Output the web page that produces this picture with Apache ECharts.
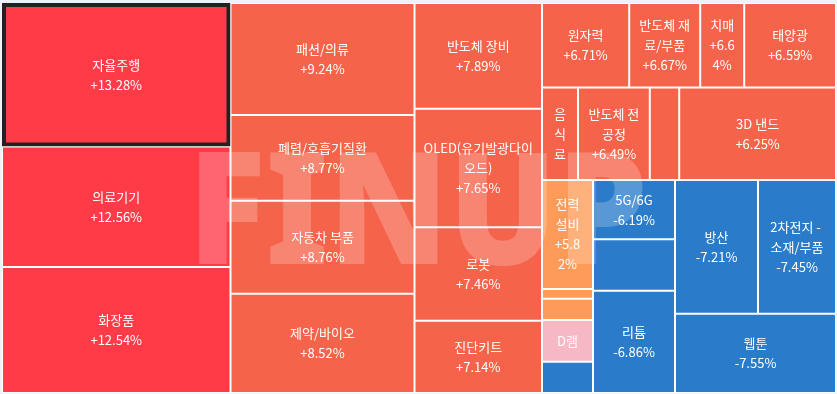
<!DOCTYPE html>
<html>
<head>
<meta charset="utf-8">
<script src="https://cdn.jsdelivr.net/npm/echarts@6/dist/echarts.min.js"></script>
<style>
html,body{margin:0;padding:0;background:#eef1f7;}
#chart{width:837px;height:394px;}
</style>
</head>
<body>
<div id="chart"></div>
<script>
// Sector names (ordered by daily change, as laid out in the reference)
const names = ['자율주행','의료기기','화장품','패션/의류','폐렴/호흡기질환','자동차 부품','제약/바이오','반도체 장비','OLED(유기발광다이오드)','로봇','진단키트',
  '원자력','반도체 재료/부품','치매','태양광',
  '음식료','반도체 전공정','','3D 낸드',
  '전력설비','','','D램','','5G/6G','','리튬','방산','2차전지 - 소재/부품','웹툰'];
// Daily change in %
const changes = [13.28,12.56,12.54,9.24,8.77,8.76,8.52,7.89,7.65,7.46,7.14,
  6.71,6.67,6.64,6.59,
  6.55,6.49,6.35,6.25,
  5.82,5.70,5.60,0.90,-6.05,-6.19,-6.52,-6.86,-7.21,-7.45,-7.55];
// Relative size of each sector (cell area)
const sizes = [32790,27534,28791,20608,15769,17112,18271,13477,15122,11909,9218,
  7368,6000,3718,7757,
  3330,6642,2720,14504,
  5559,500,1081,2127,1596,4854,4223,8389,11105,10436,12751];
// Number of sectors in each nested block of the treemap
const blockCounts = [11,4,4,11];
const nameOnly = ['음식료','D램'];
const highlighted = '자율주행';

function colorFor(c){
  if (c >= 10) return '#ff3b47';
  if (c >= 6) return '#f5634b';
  if (c >= 3) return '#ff9b58';
  if (c > -3) return '#f6b8c2';
  return '#2a7ccb';
}
function fmt(c){ return (c > 0 ? '+' : '') + c.toFixed(2) + '%'; }

const labelPadding = {'치매':[0,6], '전력설비':[0,9], 'OLED(유기발광다이오드)':[0,0]};

function leaf(i){
  const item = {name: names[i], value: sizes[i], change: changes[i], itemStyle:{color: colorFor(changes[i])}};
  if (!names[i]) item.label = {show:false};
  if (names[i] === highlighted) { item.itemStyle.borderColor = '#222'; item.itemStyle.borderWidth = 4; }
  if (labelPadding[names[i]]) item.label = {padding: labelPadding[names[i]]};
  return item;
}
function nest(start, b){
  const out = [];
  for (let i = start; i < start + blockCounts[b]; i++) out.push(leaf(i));
  if (b < blockCounts.length - 1) {
    out.push({name:'', itemStyle:{borderWidth:0, gapWidth:0}, label:{show:false},
      children: nest(start + blockCounts[b], b + 1)});
  }
  return out;
}

const chart = echarts.init(document.getElementById('chart'));
chart.setOption({
  backgroundColor: '#eef1f7',
  animation: false,
  tooltip: {show:false},
  graphic: [{
    type: 'text', x: 418, y: 220, z: 100, silent: true, scaleX: 0.92,
    style: {text: 'FINUP', fill: 'rgba(255,255,255,0.22)', font: '900 156px "Noto Sans"', align: 'center', verticalAlign: 'middle'}
  }],
  series: [{
    type: 'treemap',
    left: 2, top: 3, width: 834, height: 390,
    sort: false,
    roam: false,
    nodeClick: false,
    breadcrumb: {show:false},
    squareRatio: 0.5 * (1 + Math.sqrt(5)),
    visibleMin: 1,
    itemStyle: {borderWidth: 1, borderColor: '#fff', gapWidth: 0},
    levels: [{itemStyle: {borderWidth: 0, gapWidth: 0}}],
    label: {
      show: true, position: 'inside', align: 'center', verticalAlign: 'middle',
      color: '#fff', fontSize: 13, lineHeight: 20, fontFamily: 'Noto Sans CJK KR',
      overflow: 'break', padding: [0,5],
      formatter: function(p){
        const d = p.data;
        if (nameOnly.indexOf(d.name) >= 0) return d.name;
        return d.name + '\n' + fmt(d.change);
      }
    },
    emphasis: {disabled: true},
    data: nest(0, 0)
  }]
});
</script>
</body>
</html>
